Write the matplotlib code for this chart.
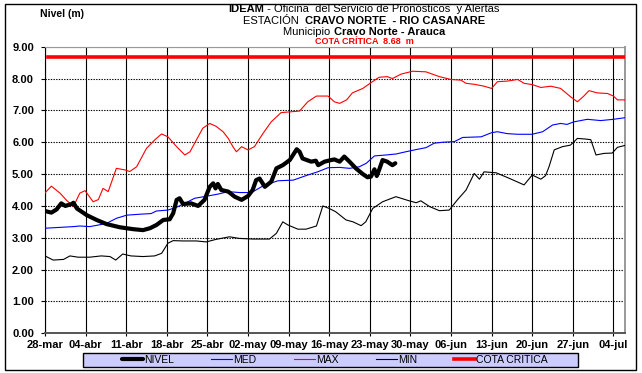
import matplotlib
matplotlib.use('Agg')
import matplotlib.pyplot as plt
from matplotlib.patches import Rectangle
import numpy as np

plt.rcParams['font.family'] = ['Liberation Sans', 'DejaVu Sans']

# dias contados desde el 28-mar
nivel_dias = [0, 1.1, 2.0, 2.8, 3.5, 4.6, 4.9, 5.5, 7.2, 8.9, 10.6, 12.9, 15.2, 16.9, 18.1, 19.2,
              20.4, 21.5, 22.1, 22.7, 23.2, 23.8, 25.2, 26.4, 27.5, 28.4, 29.0, 29.4, 29.8, 30.4,
              31.6, 32.7, 33.9, 35.0, 35.8, 36.4, 37.0, 37.9, 39.0, 39.9, 41.0, 42.2, 43.4, 43.9,
              44.4, 45.9, 46.7, 47.1, 48.2, 49.3, 49.9, 50.8, 51.6, 52.5, 53.6, 54.8, 55.6, 56.2,
              56.8, 57.2, 57.6, 58.2, 59.0, 59.9, 60.4]
nivel = [3.84, 3.79, 3.89, 4.08, 4.00, 4.06, 4.10, 3.92, 3.71, 3.56, 3.43, 3.33, 3.27, 3.24, 3.30, 3.40,
         3.56, 3.58, 3.77, 4.19, 4.24, 4.06, 4.08, 4.00, 4.19, 4.60, 4.71, 4.55, 4.69, 4.50,
         4.45, 4.29, 4.19, 4.31, 4.50, 4.81, 4.86, 4.60, 4.76, 5.18, 5.28, 5.44, 5.78, 5.70,
         5.49, 5.39, 5.42, 5.28, 5.39, 5.44, 5.46, 5.39, 5.55, 5.39, 5.18, 5.00, 4.90, 4.92,
         5.15, 4.94, 5.13, 5.44, 5.39, 5.28, 5.34]

med_dias = [0, 4.9, 6.0, 7.7, 9.2, 10.6, 12.3, 14.1, 16.4, 18.3, 19.2, 21.2, 22.7, 24.1, 25.8, 28.0,
            29.8, 31.6, 33.5, 35.6, 37.9, 40.2, 42.8, 45.3, 47.0, 48.8, 50.8, 52.5, 54.2, 55.4,
            56.8, 58.8, 60.5, 62.2, 64.0, 65.7, 67.1, 68.6, 70.6, 72.0, 75.2, 77.0, 78.0, 79.7,
            81.5, 84.0, 85.8, 87.5, 88.9, 90.0, 91.2, 93.5, 95.8, 98.0, 100]
med = [3.30, 3.35, 3.37, 3.35, 3.40, 3.45, 3.61, 3.71, 3.74, 3.76, 3.84, 3.87, 3.96, 4.08, 4.24, 4.31,
       4.37, 4.45, 4.42, 4.42, 4.66, 4.79, 4.81, 4.97, 5.07, 5.20, 5.21, 5.18, 5.23, 5.34,
       5.57, 5.60, 5.63, 5.70, 5.77, 5.83, 5.97, 6.00, 6.02, 6.15, 6.17, 6.30, 6.33, 6.27,
       6.25, 6.25, 6.33, 6.54, 6.59, 6.56, 6.64, 6.72, 6.68, 6.72, 6.77]

max_dias = [0, 1.1, 2.6, 3.7, 4.9, 6.0, 6.9, 8.3, 9.2, 10.0, 10.9, 12.3, 13.8, 14.6, 15.8, 17.5,
            18.9, 20.1, 21.2, 22.7, 24.1, 25.0, 25.8, 27.2, 28.4, 29.5, 30.7, 31.6, 32.4, 33.0,
            33.9, 35.0, 36.1, 37.6, 39.0, 40.7, 43.9, 45.3, 46.8, 48.8, 49.9, 50.8, 52.0, 53.0,
            54.8, 56.2, 57.6, 59.0, 59.9, 61.4, 63.4, 65.7, 68.0, 70.0, 71.7, 72.6, 74.0, 75.7,
            77.0, 78.0, 79.7, 81.5, 82.6, 84.0, 85.5, 87.2, 88.9, 90.6, 91.8, 92.9, 93.8, 95.2,
            97.0, 98.0, 98.7, 100]
maxi = [4.41, 4.62, 4.40, 4.18, 3.98, 4.40, 4.48, 4.13, 4.20, 4.55, 4.45, 5.18, 5.13, 5.08, 5.23, 5.81,
        6.07, 6.26, 6.17, 5.86, 5.60, 5.70, 5.97, 6.44, 6.59, 6.50, 6.33, 6.12, 5.86, 5.70,
        5.86, 5.76, 5.86, 6.28, 6.64, 6.93, 6.98, 7.27, 7.45, 7.45, 7.27, 7.22, 7.33, 7.55,
        7.69, 7.87, 8.04, 8.06, 8.00, 8.14, 8.23, 8.21, 8.06, 7.97, 7.95, 7.85, 7.82, 7.76,
        7.69, 7.90, 7.92, 7.97, 7.85, 7.81, 7.72, 7.76, 7.69, 7.43, 7.27, 7.45, 7.62, 7.55,
        7.53, 7.45, 7.33, 7.33]

min_dias = [0, 1.4, 3.2, 4.3, 5.7, 7.7, 9.7, 11.2, 12.2, 13.4, 14.8, 16.9, 18.9, 20.1, 21.2, 22.1,
            23.8, 26.1, 27.8, 29.5, 31.8, 33.5, 35.8, 38.7, 39.9, 41.0, 41.9, 43.6, 45.0, 46.8,
            47.9, 49.0, 50.1, 51.9, 53.1, 54.5, 55.3, 56.5, 58.2, 60.5, 62.8, 64.0, 64.8, 66.3,
            68.0, 69.7, 71.1, 72.6, 74.0, 74.9, 75.7, 77.8, 80.0, 82.6, 84.0, 85.5, 86.3, 86.9,
            87.8, 89.2, 90.6, 91.8, 93.2, 94.1, 95.0, 96.4, 97.8, 98.7, 100]
mini = [2.43, 2.30, 2.32, 2.43, 2.39, 2.39, 2.43, 2.41, 2.30, 2.49, 2.43, 2.41, 2.43, 2.51, 2.83, 2.91,
        2.90, 2.90, 2.87, 2.95, 3.03, 2.98, 2.96, 2.96, 3.14, 3.50, 3.40, 3.27, 3.27, 3.37,
        4.00, 3.92, 3.82, 3.56, 3.50, 3.38, 3.50, 3.92, 4.13, 4.29, 4.16, 4.10, 4.16, 3.98,
        3.85, 3.87, 4.19, 4.50, 5.02, 4.84, 5.07, 5.04, 4.87, 4.66, 4.97, 4.84, 4.95, 5.23,
        5.76, 5.86, 5.91, 6.12, 6.10, 6.08, 5.60, 5.65, 5.66, 5.84, 5.90]

cota_critica = 8.68
fechas = ['28-mar', '04-abr', '11-abr', '18-abr', '25-abr', '02-may', '09-may', '16-may',
          '23-may', '30-may', '06-jun', '13-jun', '20-jun', '27-jun', '04-jul']
dias_fin = 100

fig = plt.figure(figsize=(6.42, 3.73), dpi=100)
ax = fig.add_axes([45/642, 1 - 333.3/373, 580/642, 286.6/373])

l_nivel, = ax.plot(nivel_dias, nivel, color='black', lw=3.0, solid_capstyle='round', zorder=6)
l_med, = ax.plot(med_dias, med, color='#0000ff', lw=0.8, zorder=4)
l_max, = ax.plot(max_dias, maxi, color='#ff0000', lw=0.8, zorder=4)
l_min, = ax.plot(min_dias, mini, color='black', lw=0.8, zorder=4)
l_cota, = ax.plot([0.6, dias_fin], [cota_critica, cota_critica], color='#ff0000', lw=2.6, zorder=5)

ax.set_xlim(0, dias_fin)
ax.set_ylim(0, 9)
ax.set_xticks(np.arange(len(fechas)) * 7)
ax.set_xticklabels(fechas)
ax.set_yticks(np.arange(0, 10))
ax.set_yticklabels(['%.2f' % v for v in range(10)])
for lab in ax.get_xticklabels() + ax.get_yticklabels():
    lab.set_fontweight('bold')
    lab.set_fontsize(8)
ax.tick_params(axis='x', direction='inout', length=5, width=0.8, pad=2)
ax.tick_params(axis='y', direction='out', length=3, width=0.8, pad=5)

# rejilla: verticales continuas, horizontales punteadas
ax.grid(axis='x', color='black', lw=0.8, linestyle='-', zorder=1)
ax.grid(axis='y', color='black', lw=0.8, linestyle=(0, (1.2, 1.2)), zorder=1)
ax.set_axisbelow(True)
ax.spines['left'].set_color('black')
ax.spines['bottom'].set_color('#555555')
ax.spines['bottom'].set_linewidth(1.4)
ax.spines['top'].set_color('#999999')
ax.spines['right'].set_color('#999999')
ax.spines['right'].set_linewidth(1.4)

W = 642.0
H = 373.0


def linea_mixta(y, partes, cx, size, color='black'):
    textos = []
    for s, w in partes:
        textos.append(fig.text(0, y, s, fontweight=w, fontsize=size, color=color, va='center'))
    r = fig.canvas.get_renderer()
    anchos = [t.get_window_extent(r).width for t in textos]
    x = cx - sum(anchos) / 2
    for t, a in zip(textos, anchos):
        t.set_x(x / W)
        x += a


linea_mixta(1 - 9/H, [('IDEAM', 'bold'), (' - Oficina  del Servicio de Pronósticos  y Alertas', 'normal')], 364, 8)
linea_mixta(1 - 21/H, [('ESTACIÓN  ', 'normal'), ('CRAVO NORTE  - RIO CASANARE', 'bold')], 364, 8)
linea_mixta(1 - 32/H, [('Municipio ', 'normal'), ('Cravo Norte - Arauca', 'bold')], 364, 8)
fig.text(364/W, 1 - 41/H, 'COTA CRÍTICA  8.68  m', color='#ff0000', fontweight='bold',
         fontsize=6.5, ha='center', va='center')
fig.text(40/W, 1 - 14/H, 'Nivel (m)', fontweight='bold', fontsize=7.5, va='center')

# recuadro de la leyenda
fig.patches.append(Rectangle((83/W, 1 - 367/H), 495/W, 14/H, transform=fig.transFigure,
                             facecolor='#ccccff', edgecolor='black', lw=1.0, zorder=0))
fig.legend([l_nivel, l_med, l_max, l_min, l_cota], ['NIVEL', 'MED', 'MAX', 'MIN', 'COTA CRITICA'],
           loc='center', bbox_to_anchor=(335/W, 1 - 360/H), ncol=5, frameon=False,
           fontsize=7.5, handlelength=2.0, handletextpad=0.1, columnspacing=3.6,
           borderpad=0, borderaxespad=0)

# marco exterior
fig.patches.append(Rectangle((5/W, 3/H), 631/W, 366/H, transform=fig.transFigure,
                             facecolor='none', edgecolor='black', lw=1.0))

fig.savefig('out.png', dpi=100)
